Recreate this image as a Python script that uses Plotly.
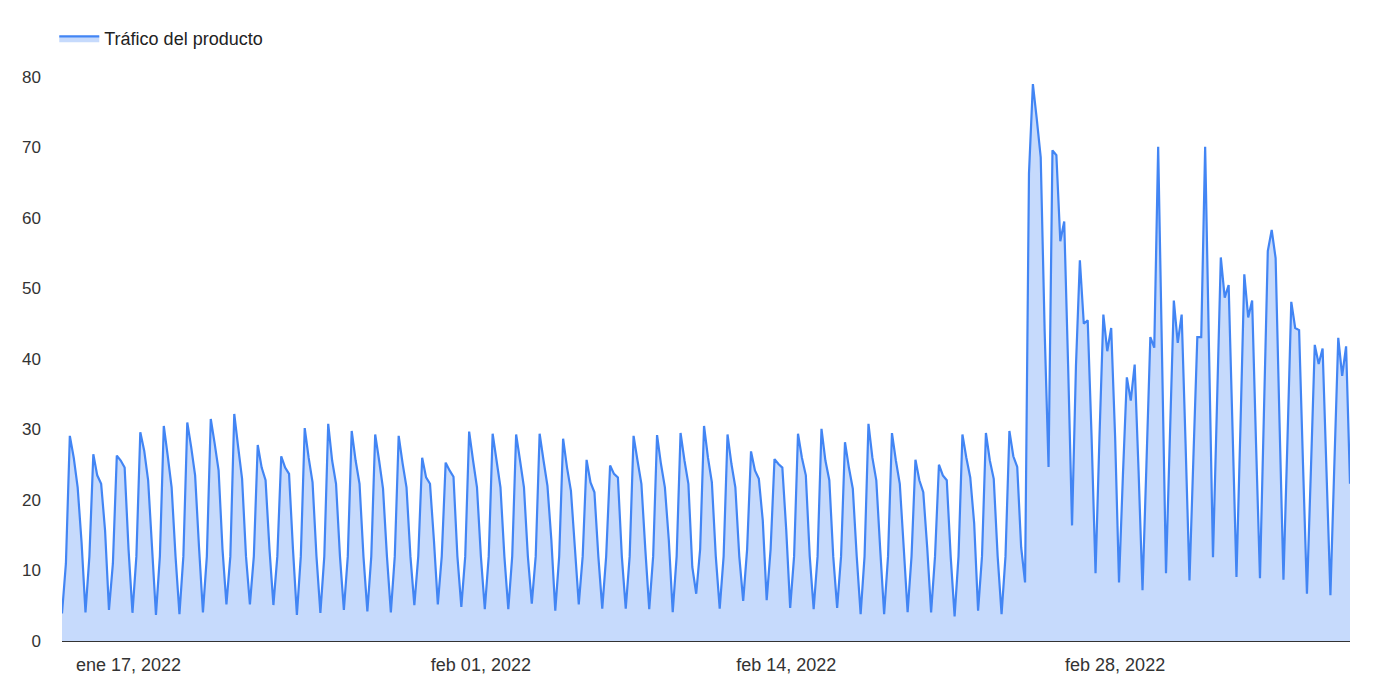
import pandas as pd
import plotly.graph_objects as go

# 4-hour buckets, 6 per day, starting 2022-01-14 04:00
start_date = "2022-01-14 04:00"
step = "4h"

# values per day: [04h, 08h, 12h, 16h, 20h, 00h]
trafico = [
    3.9, 11, 29.1, 26.0, 21.8, 14,
    4.05, 12, 26.5, 23.5, 22.3, 15.7,
    4.4, 11, 26.3, 25.6, 24.6, 13,
    4.0, 12, 29.6, 27.0, 22.8, 13,
    3.7, 12, 30.5, 26.3, 21.8, 12,
    3.8, 12, 31.0, 27.5, 23.5, 13.3,
    4.05, 12, 31.5, 28, 24.2, 13,
    5.2, 12, 32.2, 27.5, 23, 12,
    5.2, 12, 27.8, 24.6, 22.8, 13,
    5.1, 12, 26.2, 24.6, 23.7, 13,
    3.7, 12, 30.2, 26, 22.5, 12,
    4.0, 12, 30.8, 25.6, 22.3, 12,
    4.4, 12, 29.8, 25.6, 22.3, 12,
    4.2, 12, 29.3, 25.6, 21.6, 12,
    4.05, 12, 29.1, 25.2, 21.8, 12,
    5.1, 12, 26.0, 23.2, 22.3, 14.3,
    5.2, 12, 25.3, 24.2, 23.3, 12,
    4.85, 12, 29.7, 25.6, 21.8, 12,
    4.5, 12, 29.4, 25.6, 21.8, 12,
    4.5, 12, 29.3, 25.6, 21.8, 12,
    5.3, 12, 29.4, 25.6, 22, 14.3,
    4.3, 12, 28.7, 24.6, 21.3, 13.3,
    5.2, 12, 25.7, 22.5, 21.1, 12,
    4.6, 12, 24.9, 23.7, 23.2, 12,
    4.6, 12, 29.1, 25.6, 22.3, 13,
    4.5, 12, 29.2, 25.1, 21.8, 14.3,
    4.1, 12, 29.5, 25.6, 22.3, 10.5,
    6.7, 13, 30.5, 26, 22.5, 12,
    4.6, 12, 29.3, 25.1, 21.8, 12,
    5.7, 13, 26.9, 24.2, 23, 17.1,
    5.8, 13, 25.8, 25.1, 24.6, 15.7,
    4.7, 12, 29.4, 26, 23.5, 12,
    4.5, 12, 30.1, 25.6, 22.8, 12,
    4.7, 12, 28.2, 24.6, 21.6, 12,
    3.8, 12, 30.8, 26, 22.8, 13,
    3.8, 12, 29.5, 25.6, 22.3, 13.3,
    4.1, 12, 25.7, 22.8, 21.1, 13.3,
    4.05, 12, 25.0, 23.5, 22.8, 12,
    3.5, 12, 29.3, 26, 23.2, 16.7,
    4.3, 12, 29.5, 25.6, 23, 12,
    3.8, 12, 29.8, 26.2, 24.7, 13.3,
    8.3, 66.3, 79, 74, 68.6, 44,
    24.7, 69.6, 68.9, 56.7, 59.5, 39,
    16.4, 39, 54, 45, 45.5, 28.8,
    9.6, 28.8, 46.3, 41.1, 44.4, 29,
    8.3, 23.6, 37.4, 34.1, 39.2, 24,
    7.2, 25, 43.1, 41.6, 70.1, 40,
    9.6, 29, 48.3, 42.3, 46.3, 28,
    8.6, 26, 43.1, 43.1, 70.1, 41,
    11.9, 33, 54.4, 48.7, 50.5, 30,
    9.1, 30, 52.0, 45.9, 48.3, 28,
    8.9, 32, 55.3, 58.3, 54.3, 31,
    8.7, 28, 48.1, 44.4, 44.1, 25,
    6.7, 24, 42.0, 39.3, 41.5, 24,
    6.5, 25, 43.0, 37.6, 41.8, 22.3,
]

tick_dates = ["2022-01-17", "2022-02-01", "2022-02-14", "2022-02-28"]
tick_labels = ["ene 17, 2022", "feb 01, 2022", "feb 14, 2022", "feb 28, 2022"]
y_ticks = [0, 10, 20, 30, 40, 50, 60, 70, 80]

fechas = pd.date_range(start=start_date, periods=len(trafico), freq=step)

fig = go.Figure()
fig.add_trace(go.Scatter(
    x=fechas, y=trafico, mode="lines", name="Tráfico del producto",
    line=dict(color="#4285F4", width=2.2),
    fill="tozeroy", fillcolor="#C6DAFC",
    showlegend=True,
))

# page body adds an 8px offset; margins compensate
fig.update_layout(
    width=1380, height=688,
    margin=dict(l=54, r=38, t=67, b=55),
    paper_bgcolor="white", plot_bgcolor="white",
    font=dict(family="Arial, Liberation Sans, sans-serif", size=17, color="#333333"),
    showlegend=True,
    legend=dict(orientation="h", x=-0.006, xanchor="left", y=1.068, yanchor="middle",
                font=dict(size=18, color="#222222"), bgcolor="rgba(0,0,0,0)",
                itemwidth=40),
)
fig.update_xaxes(
    range=[fechas[0], fechas[-1]],
    tickvals=pd.to_datetime(tick_dates), ticktext=tick_labels,
    showgrid=False, zeroline=False, showline=True, linecolor="#333333", linewidth=1,
    ticks="", tickfont=dict(size=18, color="#333333"), ticklabelstandoff=7,
)
fig.update_yaxes(
    range=[0, 80], tickvals=y_ticks,
    showgrid=False, zeroline=False, showline=False,
    ticks="", tickfont=dict(size=17, color="#333333"), ticklabelstandoff=20,
)

fig.write_html("out.html")
